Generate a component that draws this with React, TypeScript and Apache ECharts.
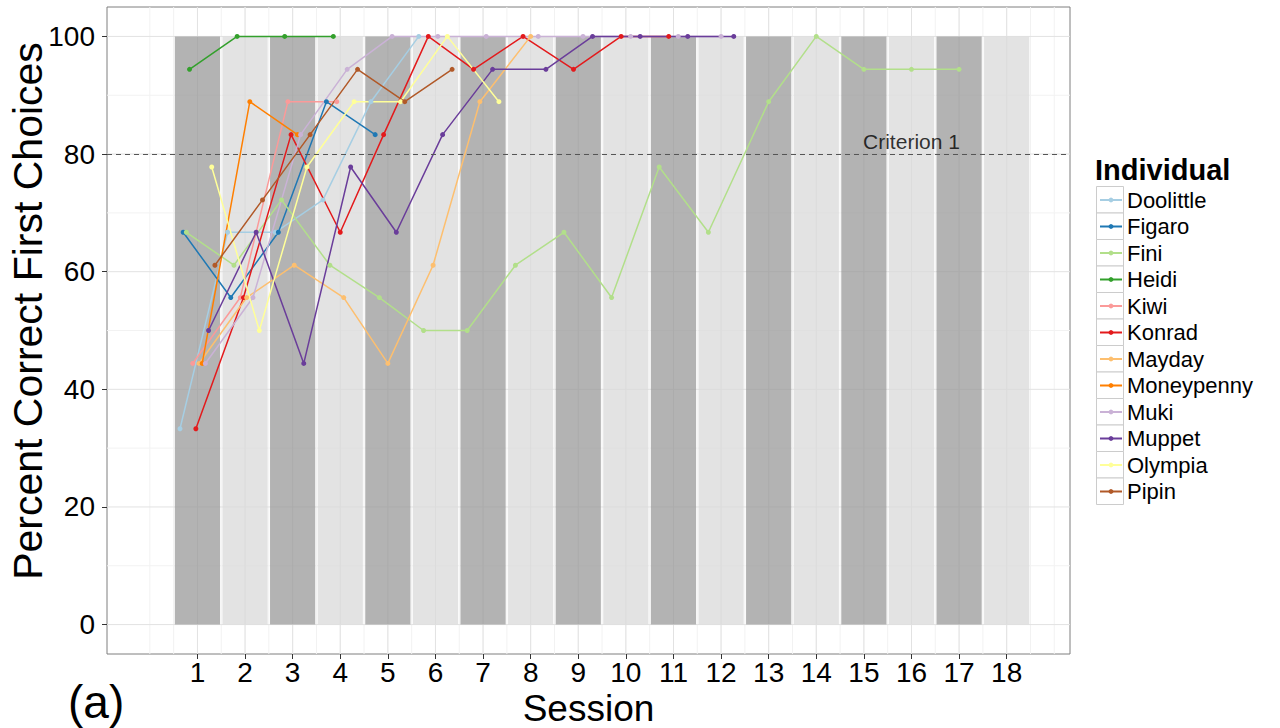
import React, { useEffect, useRef } from "react";
import * as echarts from "echarts";

// ---------- data ----------
const sessions = [1, 2, 3, 4, 5, 6, 7, 8, 9, 10, 11, 12, 13, 14, 15, 16, 17, 18];
const sessionBarHeight = [100, 100, 100, 100, 100, 100, 100, 100, 100, 100, 100, 100, 100, 100, 100, 100, 100, 100];
const yTicks = [0, 20, 40, 60, 80, 100];
const criterionValue = 80;
const criterionLabel = "Criterion 1";
const criterionLabelSession = 16;
const yTitle = "Percent Correct First Choices";
const xTitle = "Session";
const panelTag = "(a)";

const individuals = [
  "Doolittle", "Figaro", "Fini", "Heidi", "Kiwi", "Konrad",
  "Mayday", "Moneypenny", "Muki", "Muppet", "Olympia", "Pipin",
];
const colors = [
  "#A6CEE3", "#1F78B4", "#B2DF8A", "#33A02C", "#FB9A99", "#E31A1C",
  "#FDBF6F", "#FF7F00", "#CAB2D6", "#6A3D9A", "#FFFF99", "#B15928",
];

// percent correct per session, starting at session 1
const doolittle = [33.3, 66.7, 66.7, 72.2, 88.9, 100];
const figaro = [66.7, 55.6, 66.7, 88.9, 83.3];
const fini = [66.7, 61.1, 72.2, 61.1, 55.6, 50, 50, 61.1, 66.7, 55.6, 77.8, 66.7, 88.9, 100, 94.4, 94.4, 94.4];
const heidi = [94.4, 100, 100, 100];
const kiwi = [44.4, 55.6, 88.9, 88.9];
const konrad = [33.3, 55.6, 83.3, 66.7, 83.3, 100, 94.4, 100, 94.4, 100, 100];
const mayday = [44.4, 55.6, 61.1, 55.6, 44.4, 61.1, 88.9, 100];
const moneypenny = [44.4, 88.9, 83.3];
const muki = [44.4, 55.6, 83.3, 94.4, 100, 100, 100, 100, 100, 100, 100, 100];
const muppet = [50, 66.7, 44.4, 77.8, 66.7, 83.3, 94.4, 94.4, 100, 100, 100, 100];
const olympia = [77.8, 50, 77.8, 88.9, 88.9, 100, 88.9];
const pipin = [61.1, 72.2, 83.3, 94.4, 88.9, 94.4];

const scores: Record<string, number[]> = {
  Doolittle: doolittle, Figaro: figaro, Fini: fini, Heidi: heidi, Kiwi: kiwi,
  Konrad: konrad, Mayday: mayday, Moneypenny: moneypenny, Muki: muki,
  Muppet: muppet, Olympia: olympia, Pipin: pipin,
};

// ---------- layout constants ----------
const FONT = "'Liberation Sans', Arial, Helvetica, sans-serif";
const DODGE = 0.8;
const BAR_W = 0.95;
const X_MIN = -0.9;
const X_MAX = 19.33;
const Y_MIN = -5;
const Y_MAX = 105;

function dodgedX(session: number, name: string): number {
  const present = individuals.filter((n) => scores[n].length >= session);
  const j = present.indexOf(name);
  const n = present.length;
  return session - DODGE / 2 + ((j + 0.5) * DODGE) / n;
}

function buildGridLines(): number[][] {
  // [orientation 0=vertical 1=horizontal, value, major?]
  const out: number[][] = [];
  const first = sessions[0];
  const last = sessions[sessions.length - 1];
  const ext = [first - 1, ...sessions, last + 1];
  for (let i = 0; i < ext.length - 1; i++) {
    out.push([0, ext[i], 0]);
    out.push([0, (ext[i] + ext[i + 1]) / 2, 0]);
  }
  out.push([0, ext[ext.length - 1], 0]);
  for (let i = 0; i < yTicks.length - 1; i++) {
    out.push([1, (yTicks[i] + yTicks[i + 1]) / 2, 0]);
  }
  sessions.forEach((s) => out.push([0, s, 1]));
  yTicks.forEach((v) => out.push([1, v, 1]));
  return out;
}

export default function App() {
  const ref = useRef<HTMLDivElement>(null);

  useEffect(() => {
    if (!ref.current) return;
    const chart = echarts.init(ref.current, undefined, { renderer: "svg" });

    const lineSeries = individuals.map((name, i) => ({
      name,
      type: "line",
      z: 4,
      data: scores[name].map((v, k) => [dodgedX(k + 1, name), v]),
      symbol: "circle",
      symbolSize: 5,
      showSymbol: true,
      color: colors[i],
      lineStyle: { width: 1.5, color: colors[i] },
      itemStyle: { color: colors[i] },
      emphasis: { disabled: true },
    }));

    const option: any = {
      animation: false,
      textStyle: { fontFamily: FONT },
      title: {
        text: "Individual",
        left: 1095,
        top: 155,
        padding: 0,
        textStyle: { fontSize: 29, fontWeight: "bold", color: "#000", fontFamily: FONT },
      },
      legend: {
        data: individuals,
        orient: "vertical",
        left: 1099,
        top: 189,
        padding: 0,
        itemWidth: 22,
        itemHeight: 6,
        itemGap: 4.5,
        textStyle: { fontSize: 22, lineHeight: 22, color: "#000", fontFamily: FONT },
        selectedMode: false,
      },
      grid: {
        left: 107,
        right: 210,
        top: 7,
        bottom: 74,
        outerBoundsMode: "none",
        containLabel: false,
        show: true,
        borderColor: "#7f7f7f",
        borderWidth: 1,
        backgroundColor: "transparent",
      },
      xAxis: {
        type: "value",
        min: X_MIN,
        max: X_MAX,
        name: xTitle,
        nameLocation: "middle",
        nameGap: 38,
        nameMoveOverlap: false,
        nameTextStyle: { fontSize: 37, lineHeight: 32, color: "#000", fontFamily: FONT, verticalAlign: "top" },
        axisLine: { show: false, onZero: false },
        splitLine: { show: false },
        axisTick: { show: true, customValues: sessions, length: 5, lineStyle: { color: "#333" } },
        axisLabel: { customValues: sessions, fontSize: 28, lineHeight: 26, color: "#000", margin: 5, fontFamily: FONT },
      },
      yAxis: {
        type: "value",
        min: Y_MIN,
        max: Y_MAX,
        axisLine: { show: false, onZero: false },
        splitLine: { show: false },
        axisTick: { show: true, customValues: yTicks, length: 5, lineStyle: { color: "#333" } },
        axisLabel: { customValues: yTicks, fontSize: 28, color: "#000", margin: 12, fontFamily: FONT },
      },
      graphic: [
        ...individuals.map((_, i) => ({
          type: "rect",
          z: 0,
          shape: { x: 1096.5, y: 186.5 + i * 26.5, width: 27, height: 26.5 },
          style: { fill: "#ffffff", stroke: "#cccccc", lineWidth: 1 },
          silent: true,
        })),
        {
          type: "text",
          x: 28,
          y: 311,
          rotation: Math.PI / 2,
          style: {
            text: yTitle,
            fontSize: 41,
            fontFamily: FONT,
            fill: "#000",
            align: "center",
            verticalAlign: "middle",
          },
          silent: true,
        },
        {
          type: "text",
          left: 68,
          top: 679,
          style: { text: panelTag, fontSize: 46, fontFamily: FONT, fill: "#000" },
          silent: true,
        },
      ],
      series: [
        {
          type: "custom",
          name: "grid",
          z: 1,
          silent: true,
          data: buildGridLines(),
          renderItem: (params: any, api: any) => {
            const cs = params.coordSys;
            const orient = api.value(0);
            const v = api.value(1);
            const major = api.value(2);
            let shape;
            if (orient === 0) {
              const p = api.coord([v, 0]);
              shape = { x1: p[0], y1: cs.y, x2: p[0], y2: cs.y + cs.height };
            } else {
              const p = api.coord([0, v]);
              shape = { x1: cs.x, y1: p[1], x2: cs.x + cs.width, y2: p[1] };
            }
            return {
              type: "line",
              shape,
              style: { stroke: major ? "#e2e2e2" : "#f2f2f2", lineWidth: 1 },
            };
          },
        },
        {
          type: "custom",
          name: "bars",
          z: 2,
          silent: true,
          data: sessions.map((s, i) => [s, sessionBarHeight[i]]),
          renderItem: (params: any, api: any) => {
            const s = api.value(0);
            const h = api.value(1);
            const p0 = api.coord([s - BAR_W / 2, h]);
            const p1 = api.coord([s + BAR_W / 2, 0]);
            return {
              type: "rect",
              shape: { x: p0[0], y: p0[1], width: p1[0] - p0[0], height: p1[1] - p0[1] },
              style: { fill: s % 2 === 1 ? "rgba(154,154,154,0.75)" : "rgba(218,218,218,0.75)" },
            };
          },
        },
        {
          type: "scatter",
          name: "criterion",
          z: 3,
          silent: true,
          symbolSize: 1,
          itemStyle: { color: "rgba(0,0,0,0)" },
          data: [[criterionLabelSession, criterionValue]],
          label: {
            show: true,
            position: "top",
            distance: 2,
            formatter: criterionLabel,
            fontSize: 21,
            color: "#000",
            fontFamily: FONT,
          },
          markLine: {
            silent: true,
            symbol: ["none", "none"],
            label: { show: false },
            lineStyle: { type: [5, 4], color: "#555", width: 1 },
            data: [{ yAxis: criterionValue }],
          },
        },
        ...lineSeries,
      ],
    };

    chart.setOption(option);
    return () => chart.dispose();
  }, []);

  return (
    <div
      ref={ref}
      style={{ position: "fixed", left: 0, top: 0, width: 1280, height: 728, background: "#fff" }}
    />
  );
}
